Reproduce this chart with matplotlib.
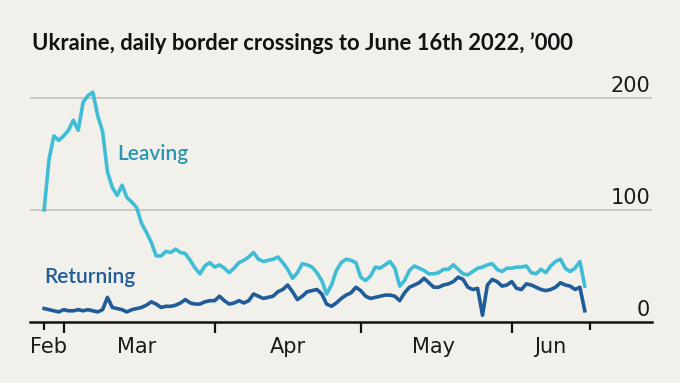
import matplotlib
matplotlib.use("Agg")
import matplotlib.pyplot as plt
import matplotlib.dates as mdates
import pandas as pd

# --- DATA ('000 crossings per day, Feb 25th to June 16th 2022) ---
start_date = "2022-02-25"
leaving = [100, 145, 166, 162, 166, 171, 180, 171, 196, 202,
           205, 184, 170, 134, 120, 113, 122, 111, 107, 102,
           88, 80, 71, 59, 59, 63, 62, 65, 62, 61,
           55, 48, 43, 50, 53, 49, 51, 48, 44, 48,
           53, 55, 58, 62, 56, 54, 55, 56, 58, 53,
           47, 39, 44, 52, 51, 49, 44, 37, 25, 33,
           46, 53, 56, 55, 53, 40, 37, 41, 49, 48,
           51, 54, 48, 32, 37, 46, 50, 48, 46, 43,
           43, 44, 47, 47, 51, 47, 43, 42, 45, 48,
           49, 51, 52, 47, 45, 48, 48, 49, 49, 50,
           44, 43, 47, 44, 50, 54, 56, 48, 45, 48,
           54, 32]
returning = [12, 11, 10, 9, 11, 10, 10, 11, 10, 11,
             10, 9, 11, 22, 13, 12, 11, 9, 11, 12,
             13, 15, 18, 16, 13, 14, 14, 15, 17, 20,
             17, 16, 16, 18, 19, 19, 23, 19, 16, 17,
             19, 17, 19, 25, 23, 21, 22, 23, 27, 29,
             33, 27, 20, 23, 27, 28, 29, 25, 16, 14,
             17, 21, 24, 26, 31, 28, 23, 21, 22, 23,
             24, 24, 23, 19, 26, 31, 33, 35, 39, 35,
             31, 31, 33, 34, 36, 40, 38, 31, 29, 30,
             6, 33, 38, 36, 32, 33, 36, 30, 29, 34,
             33, 31, 29, 28, 29, 31, 35, 33, 32, 29,
             31, 10]
month_labels = ["Feb", "Mar", "Apr", "May", "Jun"]
y_ticks = [0, 100, 200]

dates = pd.date_range(start_date, periods=len(leaving), freq="D")

# --- STYLE ---
BG = "#f1f0eb"
C_LEAVE = "#3fbdd6"
C_LEAVE_TXT = "#2a97b0"
C_RET = "#1f5c99"
TICK_FONT = "Liberation Sans Narrow"

fig = plt.figure(figsize=(6.8, 3.83), dpi=100, facecolor=BG)
ax = fig.add_axes([30 / 680, 61 / 383, 622 / 680, 241 / 383])
ax.set_facecolor(BG)

ax.plot(dates, leaving, color=C_LEAVE, lw=2.6, solid_joinstyle="round", zorder=3)
ax.plot(dates, returning, color=C_RET, lw=2.6, solid_joinstyle="round", zorder=4)

x0 = pd.Timestamp(start_date)
ax.set_xlim(x0 - pd.Timedelta(days=2.9), x0 + pd.Timedelta(days=124.8))
ax.set_ylim(0, 215)

# horizontal grid + labels on the right
for v in y_ticks[1:]:
    ax.axhline(v, color="#c6c6c3", lw=1.4, zorder=1)
for v in y_ticks:
    ax.text(0.997, v + 2, str(v), transform=ax.get_yaxis_transform(),
            ha="right", va="bottom", fontsize=15, family=TICK_FONT,
            color="#1a1a1a")

for s in ["top", "left", "right"]:
    ax.spines[s].set_visible(False)
ax.spines["bottom"].set_color("#121212")
ax.spines["bottom"].set_linewidth(1.8)
ax.set_yticks([])

# month boundary ticks, labels centred in between
bounds = pd.to_datetime(["2022-03-01", "2022-04-01", "2022-05-01", "2022-06-01"])
ends = [x0, x0 + pd.Timedelta(days=len(leaving))]
ax.set_xticks(list(bounds))
ax.set_xticklabels([])
ax.tick_params(axis="x", which="major", length=8, width=1.6, color="#121212")
ax.set_xticks(ends, minor=True)
ax.tick_params(axis="x", which="minor", length=6, width=1.6, color="#121212")

label_pos = pd.to_datetime(["2022-02-26", "2022-03-16", "2022-04-16",
                            "2022-05-16", "2022-06-09"])
for d, m in zip(label_pos, month_labels):
    ax.text(mdates.date2num(d), -13, m, ha="center", va="top", fontsize=15,
            family=TICK_FONT, color="#1a1a1a", clip_on=False)

# series labels
ax.text(mdates.date2num(pd.Timestamp("2022-03-12")), 150, "Leaving",
        fontsize=15, family="Lato", color=C_LEAVE_TXT, va="center", ha="left",
        fontweight="semibold")
ax.text(mdates.date2num(pd.Timestamp("2022-02-25")), 40, "Returning",
        fontsize=15, family="Lato", color=C_RET, va="center", ha="left",
        fontweight="semibold")

fig.text(32 / 680, 1 - 43 / 383,
         "Ukraine, daily border crossings to June 16th 2022, \u2019000",
         fontsize=15.8, fontweight="bold", family="Lato", color="#121212",
         ha="left", va="center")

fig.savefig("out.png", dpi=100, facecolor=BG)
